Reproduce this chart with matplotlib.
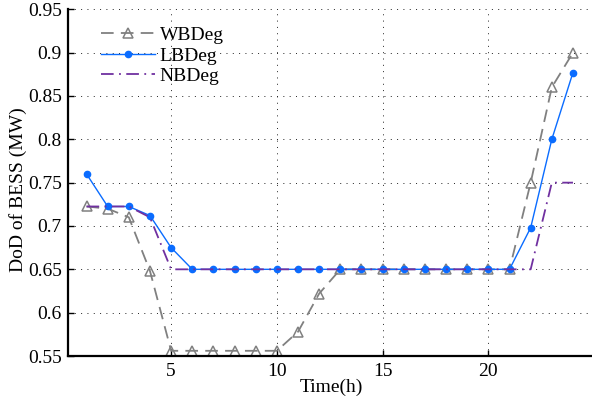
import matplotlib
matplotlib.use("Agg")
import matplotlib.pyplot as plt

plt.rcParams['font.family'] = ['Liberation Serif', 'DejaVu Serif']

hours = list(range(1, 25))
wbdeg = [0.7225, 0.720, 0.710, 0.648, 0.556, 0.556, 0.556, 0.556, 0.556, 0.556,
         0.578, 0.622, 0.650, 0.650, 0.650, 0.650, 0.650, 0.650, 0.650, 0.650,
         0.650, 0.750, 0.860, 0.900]
lbdeg = [0.760, 0.7225, 0.7225, 0.712, 0.675, 0.650, 0.650, 0.650, 0.650, 0.650,
         0.650, 0.650, 0.650, 0.650, 0.650, 0.650, 0.650, 0.650, 0.650, 0.650,
         0.650, 0.698, 0.800, 0.877]
nbdeg = [0.7225, 0.7225, 0.7225, 0.710, 0.650, 0.650, 0.650, 0.650, 0.650, 0.650,
         0.650, 0.650, 0.650, 0.650, 0.650, 0.650, 0.650, 0.650, 0.650, 0.650,
         0.650, 0.650, 0.750, 0.750]
labels = ['WBDeg', 'LBDeg', 'NBDeg']
xticks = [5, 10, 15, 20]
yticks = [0.55, 0.6, 0.65, 0.7, 0.75, 0.8, 0.85, 0.9, 0.95]
ytick_labels = ['0.55', '0.6', '0.65', '0.7', '0.75', '0.8', '0.85', '0.9', '0.95']

fig = plt.figure(figsize=(5.92, 4.01), dpi=100)
ax = fig.add_axes([67.5 / 592, 1 - 356 / 401, 1 - 67.5 / 592, (356 - 9.3) / 401])

l1, = ax.plot(hours, wbdeg, color='#808080', lw=1.3, marker='^', markersize=7,
              markerfacecolor='none', markeredgecolor='#808080', markeredgewidth=1.1,
              label=labels[0])
l1.set_dashes((7, 4))
l2, = ax.plot(hours, lbdeg, color='#0A6CFF', lw=1.0, marker='o', markersize=4.5,
              markerfacecolor='#0A6CFF', markeredgecolor='#0A6CFF', label=labels[1])
l3, = ax.plot(hours, nbdeg, color='#7030A0', lw=1.3, label=labels[2])
l3.set_dashes((7, 3, 1, 3))

ax.set_xlim(0.1, 24.9)
ax.set_ylim(0.55, 0.95)
ax.set_xticks(xticks)
ax.set_xticklabels([str(t) for t in xticks])
ax.set_yticks(yticks)
ax.set_yticklabels(ytick_labels)
ax.tick_params(direction='in', length=4, width=1, labelsize=14, pad=5,
               top=False, right=False)
ax.tick_params(axis='y', pad=4)

for s in ['top', 'right']:
    ax.spines[s].set_visible(False)
for s in ['left', 'bottom']:
    ax.spines[s].set_linewidth(1.6)

ax.grid(True, color='#222222', lw=0.7, linestyle=(0, (1, 5.5)))
ax.set_axisbelow(True)

ax.set_xlabel('Time(h)', fontsize=14)
ax.xaxis.set_label_coords(0.5025, -0.066)
ax.set_ylabel('DoD of BESS (MW)', fontsize=14)
ax.yaxis.set_label_coords(-0.078, 0.479)

leg = ax.legend(loc='upper left', bbox_to_anchor=(0.063, 0.95), frameon=False,
                fontsize=14, handlelength=2.8, handletextpad=0.25,
                labelspacing=0.15, borderpad=0, borderaxespad=0)

fig.savefig('out.png', dpi=100)
